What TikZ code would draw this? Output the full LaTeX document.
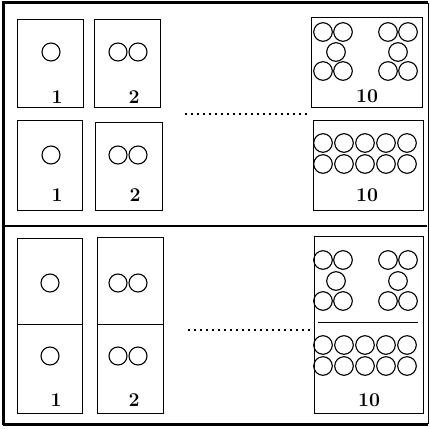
\documentclass[tikz,border=0pt]{standalone}
\usepackage{fontspec}
\usetikzlibrary{math}
\tikzset{
card/.style={line width=1},
pip/.style={line width=1.1},
lbl/.style={font=\bfseries\fontsize{19.5}{19.5}\selectfont, inner sep=0},
leader/.style={line width=2.2, dash pattern=on 1.5pt off 4.5pt}
}
\begin{document}
\begin{tikzpicture}[x=1pt,y=-1pt]
\tikzmath{
\r=9;
\R=9.3;
}
\useasboundingbox (0,0) rectangle (430,428);

% frame
\draw[line width=3] (3,425) -- (3,3) -- (428,3);
\draw[line width=3] (3,424) -- (428,424);
\draw[line width=0.5] (428,3) -- (428,424);
\draw[line width=1.5] (3,226) -- (427,226);

% top part, upper row
\draw[card] (17,20) rectangle (83,107);
\draw[pip] (51,52) circle (\r);
\node[lbl] (up1) at (57,97) {1};

\draw[card] (94,20) rectangle (160,107);
\foreach \xp in {118,138}{
\draw[pip] (\xp,52) circle (\r);
}
\node[lbl] (up2) at (134,97) {2};

\draw[card] (311,18) rectangle (422,107);
\foreach \xp/\yp in {323/32,343/32,336/52,323/71,343/71,388/32,408/32,398/52,388/71,408/71}{
\draw[pip] (\xp,\yp) circle (\R);
}
\node[lbl] (up10) at (367,96) {10};

% top part, lower row
\draw[card] (17,120) rectangle (82,210);
\draw[pip] (51,155) circle (\r);
\node[lbl] (lo1) at (57,195) {1};

\draw[card] (95,122) rectangle (162,210);
\foreach \xp in {118,138}{
\draw[pip] (\xp,155) circle (\r);
}
\node[lbl] (lo2) at (135,195) {2};

\draw[card] (313,120) rectangle (423,210);
\foreach \xp in {323,344,365,386,407}{
\draw[pip] (\xp,143) circle (\R);
\draw[pip] (\xp,164) circle (\R);
}
\node[lbl] (lo10) at (367,195) {10};

\draw[leader] (185,114) -- (307,114);

% bottom part
\draw[card] (17,238) rectangle (82,413);
\draw[card] (17,324) -- (82,324);
\draw[pip] (50,283) circle (\r);
\draw[pip] (50,356) circle (\r);
\node[lbl] (bt1) at (56,400) {1};

\draw[card] (97,237) rectangle (163,413);
\draw[card] (97,324) -- (163,324);
\foreach \xp in {118,138}{
\draw[pip] (\xp,283) circle (\r);
\draw[pip] (\xp,356) circle (\r);
}
\node[lbl] (bt2) at (134,400) {2};

\draw[card] (314,236) rectangle (423,413);
\draw[card] (318,322) -- (418,322);
\foreach \xp/\yp in {323/260,343/260,336/281,323/301,343/301,388/260,408/260,398/281,388/301,408/301}{
\draw[pip] (\xp,\yp) circle (\R);
}
\foreach \xp in {323,344,365,386,407}{
\draw[pip] (\xp,345) circle (\R);
\draw[pip] (\xp,366) circle (\R);
}
\node[lbl] (bt10) at (369,400) {10};

\draw[leader] (188,330) -- (310,330);

\end{tikzpicture}
\end{document}
